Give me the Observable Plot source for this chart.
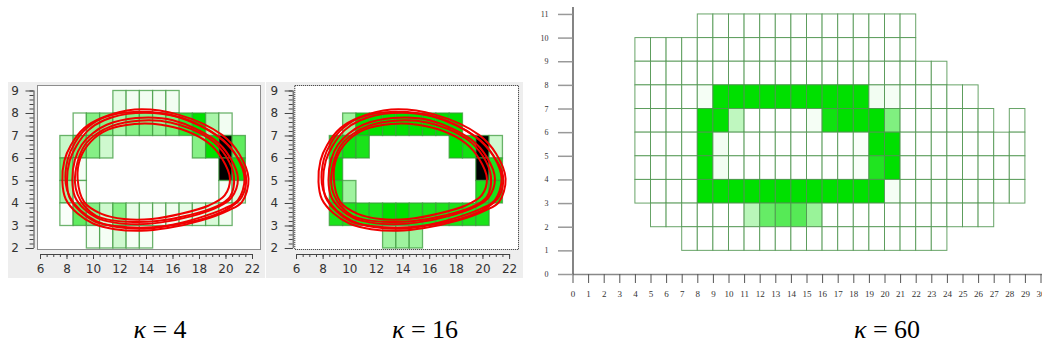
<!DOCTYPE html>
<html><head><meta charset="utf-8">
<script src="https://cdn.jsdelivr.net/npm/d3@7"></script>
<script src="https://cdn.jsdelivr.net/npm/@observablehq/plot@0.6"></script>
<style>
body{margin:0;background:#fff;}
#fig{position:relative;width:1042px;height:348px;overflow:hidden;background:#fff;}
.panel{position:absolute;}
.panel svg{display:block;max-width:none;}
.cap{position:absolute;top:314px;font-family:"Liberation Serif","DejaVu Serif",serif;font-size:26px;line-height:32px;color:#000;white-space:nowrap;transform:translateX(-50%);}
.cap i{font-style:italic;}
</style></head><body>
<div id="fig">
  <div class="panel" id="p1" style="left:8px;top:82px"></div>
  <div class="panel" id="p2" style="left:266px;top:82px"></div>
  <div class="panel" id="p3" style="left:530px;top:0px"></div>
  <div class="cap" style="left:160px"><i>κ</i>&#8197;=&#8197;4</div>
  <div class="cap" style="left:425px"><i>κ</i>&#8197;=&#8197;16</div>
  <div class="cap" style="left:887px"><i>κ</i>&#8197;=&#8197;60</div>
</div>
<script>
// ---------- tick labels ----------
const smallXTicks = [6, 8, 10, 12, 14, 16, 18, 20, 22];
const smallYTicks = [2, 3, 4, 5, 6, 7, 8, 9];
const bigXTicks = [0,1,2,3,4,5,6,7,8,9,10,11,12,13,14,15,16,17,18,19,20,21,22,23,24,25,26,27,28,29,30];
const bigYTicks = [0,1,2,3,4,5,6,7,8,9,10,11];

// ---------- grid cells: [row (lower y), first column, values per column] ----------
const k4Rows = [
  [8, 12, [0.08, 0.04, 0.04, 0.04, 0.04]],
  [7, 9,  [0.01, 0.38, 0.38, 0.27, 0.38, 0.38, 0.32, 0.42, 0.65, 0.8, 0.27, 0.04]],
  [6, 8,  [0.17, 0.45, 0.38, 0.15]],
  [6, 18, [0.38, 0.8, 1.0, 0.5]],
  [5, 8,  [0.45, 0.03]],
  [5, 20, [1.0, 0.75]],
  [4, 8,  [0.27, 0.03]],
  [4, 20, [0.03, 0.1]],
  [3, 8,  [0.02, 0.5, 0.38, 0.15, 0.38, 0.08, 0.05, 0.04, 0.05, 0.08, 0.08, 0.12, 0.04]],
  [2, 10, [0.03, 0.03, 0.15, 0.03, 0.03]]
];
const k16Rows = [
  [7, 10, [0.3, 0.8, 0.8, 0.8, 0.8, 0.8, 0.8, 0.8, 0.8]],
  [6, 9,  [0.72, 0.75, 0.72]],
  [6, 18, [0.8, 0.75, 1.0, 0.15]],
  [5, 9,  [0.8]],
  [5, 20, [1.0, 0.7]],
  [4, 9,  [0.72, 0.3]],
  [4, 20, [0.72, 0.72]],
  [3, 9,  [0.72, 0.72, 0.72, 0.72, 0.8, 0.8, 0.72, 0.72, 0.72, 0.72, 0.72, 0.72]],
  [2, 13, [0.3, 0.3, 0.3]]
];
const k60Rows = [
  [10, 8, [0,0,0,0,0,0,0,0,0,0,0,0,0,0]],
  [9, 4,  [0,0,0,0,0,0,0,0,0,0,0,0,0,0,0,0,0,0]],
  [8, 4,  [0,0,0,0,0,0,0,0,0,0,0,0,0,0,0,0,0,0,0,0]],
  [7, 4,  [0,0,0,0,0.03,0.8,0.8,0.8,0.8,0.8,0.8,0.8,0.8,0.8,0.8,0.04,0.03,0,0,0,0,0]],
  [6, 4,  [0,0,0,0,0.8,0.8,0.2,0,0,0,0,0.03,0.75,0.8,0.8,0.8,0.4,0,0,0,0,0,0,null,0]],
  [5, 4,  [0,0,0,0,0.8,0.04,0,0,0,0,0,0,0,0,0.02,0.8,0.8,0,0,0,0,0,0,0,0]],
  [4, 4,  [0,0,0,0,0.8,0.04,0,0,0,0,0,0,0,0,0.02,0.7,0.8,0,0,0,0,0,0,0,0]],
  [3, 4,  [0,0,0,0,0.8,0.8,0.8,0.8,0.8,0.8,0.8,0.8,0.8,0.8,0.8,0.8,0.03,0,0,0,0,0,0,0,0]],
  [2, 5,  [0,0,0,0,0,0,0.22,0.48,0.53,0.53,0.32,0,0,0,0,0,0,0,0,0,0,0]],
  [1, 7,  [0,0,0,0,0,0,0,0,0,0,0,0,0,0,0,0,0]]
];

// ---------- red trajectory loops ----------
const loopA = [[7.65,4.96],[7.8,5.9],[8.3,6.6],[9.3,7.35],[10.6,7.8],[13.1,8.18],[16.4,7.95],[19.7,7.05],[21.0,6.2],[21.7,5.1],[21.2,4.06],[20.2,3.7],[18.1,3.24],[15.6,2.91],[13.6,2.79],[11.6,2.86],[10.0,3.1],[8.8,3.55],[7.9,4.2]];
const loopB = [[8.0,5.0],[8.2,5.9],[8.7,6.55],[9.6,7.25],[10.8,7.7],[13.2,8.02],[16.3,7.85],[19.5,6.95],[20.8,6.1],[21.4,5.1],[20.9,4.15],[19.9,3.78],[17.9,3.35],[15.4,3.0],[13.5,2.92],[11.6,3.0],[10.1,3.2],[9.0,3.65],[8.2,4.25]];
const loopC = [[8.4,5.05],[8.6,5.95],[9.1,6.6],[9.9,7.1],[11.0,7.5],[13.2,7.8],[16.0,7.7],[19.1,6.85],[20.3,6.05],[20.9,5.1],[20.4,4.25],[19.4,3.85],[17.5,3.45],[15.0,3.15],[13.3,3.08],[11.6,3.15],[10.3,3.35],[9.3,3.75],[8.6,4.3]];
const loopD = [[8.8,5.1],[9.0,6.0],[9.8,6.75],[11.1,7.28],[13.1,7.53],[15.1,7.5],[17.1,7.2],[18.7,6.68],[19.7,6.0],[20.3,5.1],[19.9,4.36],[18.7,3.91],[16.6,3.54],[14.4,3.31],[12.3,3.31],[10.6,3.54],[9.3,4.06]];
const loopE = [[7.9,4.9],[8.05,5.95],[8.6,6.7],[9.5,7.35],[10.9,7.85],[13.4,8.08],[16.6,7.82],[19.4,6.98],[20.7,6.2],[21.5,5.25],[21.2,4.3],[20.3,3.82],[18.3,3.32],[15.8,3.02],[13.8,2.88],[11.8,2.95],[10.2,3.22],[9.0,3.7],[8.2,4.3]];
const loopF = [[8.6,4.95],[8.8,5.85],[9.35,6.6],[10.2,7.08],[11.4,7.45],[13.4,7.68],[15.8,7.6],[18.7,6.9],[20.0,6.1],[20.6,5.2],[20.3,4.3],[19.2,3.85],[17.2,3.48],[14.8,3.22],[13.0,3.18],[11.4,3.25],[10.2,3.45],[9.3,3.9],[8.8,4.4]];

// ---------- build tables ----------
function cellsFrom(rows, centered) {
  const out = [];
  for (const [y, x0, vals] of rows) {
    vals.forEach((v, i) => {
      if (v === null) return;
      const x = x0 + i;
      out.push(centered ? {x1: x - 0.5, x2: x + 0.5, y1: y, y2: y + 1, v}
                        : {x1: x, x2: x + 1, y1: y, y2: y + 1, v});
    });
  }
  return out;
}
const loops = [loopA, loopE, loopB, loopC, loopF, loopD].flatMap((pts, k) => pts.map(([x, y]) => ({loop: k, x, y})));

const colorScale = {type: "linear", domain: [0, 0.8, 1], range: ["#ffffff", "#00e000", "#000000"], interpolate: "rgb"};

function smallPanel(rows, xDomain, marginLeft, insetLeft) {
  const yDomain = [1.733, 9.244];
  const xMinor = d3.range(smallXTicks[0], smallXTicks[smallXTicks.length - 1] + 0.25, 0.5);
  const yMinor = d3.range(smallYTicks[0], smallYTicks[smallYTicks.length - 1] + 0.1, 0.2);
  return Plot.plot({
    width: 257, height: 196,
    marginLeft, marginRight: 5, marginTop: 3, marginBottom: 24,
    x: {domain: xDomain, label: null},
    y: {domain: yDomain, label: null},
    color: colorScale,
    style: {background: "#eeeeee", fontFamily: "DejaVu Sans, sans-serif", fontSize: "12px", color: "#333", overflow: "visible"},
    marks: [
      Plot.frame({fill: "white", stroke: "#222", strokeDasharray: "1,1", insetLeft, insetBottom: 5}),
      Plot.rect(cellsFrom(rows, true), {x1: "x1", x2: "x2", y1: "y1", y2: "y2", fill: "v", stroke: "#3d9a3d", strokeWidth: 1.3, strokeOpacity: 0.75}),
      Plot.line(loops, {x: "x", y: "y", z: "loop", curve: "catmull-rom-closed", stroke: "#f00000", strokeWidth: 2}),
      Plot.ruleY([yDomain[0]], {x1: smallXTicks[0], x2: smallXTicks[smallXTicks.length - 1], stroke: "#444"}),
      Plot.ruleX([xDomain[0]], {y1: smallYTicks[0], y2: smallYTicks[smallYTicks.length - 1], stroke: "#444"}),
      Plot.axisX(xMinor, {tickSize: 3, tickFormat: () => "", stroke: "#444"}),
      Plot.axisX(smallXTicks, {tickSize: 5, tickPadding: 5, stroke: "#444", fill: "#333"}),
      Plot.axisY(yMinor, {tickSize: 4, tickFormat: () => "", stroke: "#444"}),
      Plot.axisY(smallYTicks, {tickSize: 8, tickPadding: 7, stroke: "#444", fill: "#333"})
    ]
  });
}

document.getElementById("p1").append(smallPanel(k4Rows, [5.509, 22.604], 25.5, 3.5));
document.getElementById("p2").append(smallPanel(k16Rows, [5.752, 22.669], 26.7, 1.6));

const big = Plot.plot({
  width: 512, height: 300,
  marginLeft: 42.5, marginRight: 0, marginTop: 7, marginBottom: 26,
  x: {domain: [0, 30.096], label: null},
  y: {domain: [0, 11.294], label: null},
  color: colorScale,
  style: {background: "transparent", fontFamily: "Liberation Serif, serif", fontSize: "9px", color: "#333", overflow: "visible"},
  marks: [
    Plot.rect(cellsFrom(k60Rows, false), {x1: "x1", x2: "x2", y1: "y1", y2: "y2", fill: "v", stroke: "#4e944e", strokeWidth: 1, strokeOpacity: 0.85}),
    Plot.ruleY([0], {stroke: "#888", strokeWidth: 1.5}),
    Plot.ruleX([0], {stroke: "#333", strokeWidth: 1.2}),
    Plot.axisX(bigXTicks, {tickSize: 9, tickPadding: 7, stroke: "#555", fill: "#333"}),
    Plot.axisY(bigYTicks, {tickSize: 14.5, tickPadding: 10, stroke: "#999", strokeWidth: 1.5, fill: "#333", fontSize: 8})
  ]
});
document.getElementById("p3").append(big);
</script>
</body></html>
